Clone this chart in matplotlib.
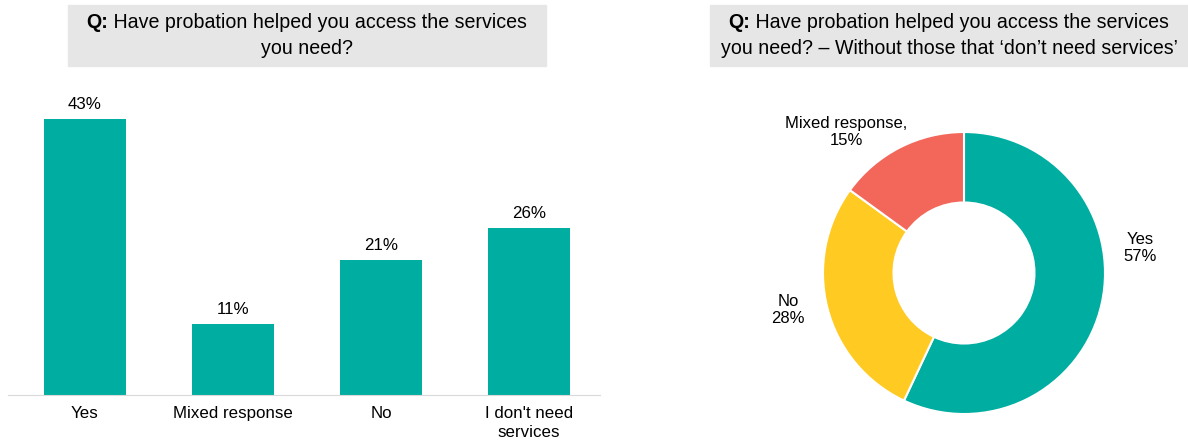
import matplotlib.pyplot as plt
from matplotlib.patches import Rectangle

plt.rcParams['font.family'] = ['Liberation Sans', 'DejaVu Sans']

# Responses, all respondents
categories = ["Yes", "Mixed response", "No", "I don't need\nservices"]
shares = [43, 11, 21, 26]

# Responses without those that don't need services
donut_labels = ["Yes\n57%", "No\n28%", "Mixed response,\n15%"]
donut_shares = [57, 28, 15]

teal = "#00ADA1"
donut_colors = [teal, "#FFCA22", "#F2675A"]

W, H = 1188, 444
fig = plt.figure(figsize=(W / 100, H / 100), dpi=100)
renderer = fig.canvas.get_renderer()
TITLE_SIZE = 14.1
LABEL_SIZE = 12.2


def px_box(x0, y0, x1, y1):
    # pixel box (top-left origin) -> figure fraction rect
    return [x0 / W, 1 - y1 / H, (x1 - x0) / W, (y1 - y0) / H]


def text_width(s, **kw):
    t = fig.text(0, 0, s, **kw)
    w = t.get_window_extent(renderer).width
    t.remove()
    return w


def header(x0, x1, first, second):
    y0, y1 = 5, 66
    fig.patches.append(Rectangle((x0 / W, 1 - y1 / H), (x1 - x0) / W, (y1 - y0) / H,
                                 transform=fig.transFigure, color="#E6E6E6", zorder=0))
    cx = (x0 + x1) / 2
    # first line: bold "Q:" followed by regular text, centred as one
    prefix, rest = "Q:", " " + first
    bold = dict(fontsize=TITLE_SIZE, fontweight="bold", fontfamily="Liberation Sans")
    wp = text_width(prefix, **bold)
    wr = text_width(rest, fontsize=TITLE_SIZE)
    left = cx - (wp + wr) / 2
    fig.text(left / W, 1 - 23 / H, prefix, ha="left", va="center", **bold)
    fig.text((left + wp) / W, 1 - 23 / H, rest, ha="left", va="center",
             fontsize=TITLE_SIZE)
    fig.text(cx / W, 1 - 48 / H, second, ha="center", va="center", fontsize=TITLE_SIZE)


header(68, 546, "Have probation helped you access the services", "you need?")
header(710, 1188, "Have probation helped you access the services",
       "you need? \u2013 Without those that \u2018don\u2019t need services\u2019")

# Bar chart
ax = fig.add_axes(px_box(8, 100, 600, 395))
x = range(len(categories))
ax.bar(x, shares, width=0.55, color=teal)
for xi, v in zip(x, shares):
    ax.text(xi, v + 1.1, f"{v}%", ha="center", va="bottom", fontsize=LABEL_SIZE)
ax.set_xlim(-0.52, 3.48)
ax.set_ylim(0, 46)
ax.set_xticks(list(x))
ax.set_xticklabels(categories, fontsize=LABEL_SIZE, linespacing=1.3)
ax.tick_params(axis="x", length=0, pad=8)
ax.set_yticks([])
for side in ("top", "right", "left"):
    ax.spines[side].set_visible(False)
ax.spines["bottom"].set_color("#D9D9D9")

# Donut chart
pax = fig.add_axes(px_box(964 - 150, 273 - 150, 964 + 150, 273 + 150))
pax.pie(donut_shares, colors=donut_colors, startangle=90, counterclock=False,
        radius=1.0, wedgeprops=dict(width=0.5, edgecolor="white", linewidth=1.5))
pax.set_xlim(-150 / 141, 150 / 141)
pax.set_ylim(-150 / 141, 150 / 141)
pax.set_aspect("equal")
pax.axis("off")

label_pos = [(1140, 248), (788, 310), (846, 132)]
for text, (lx, ly) in zip(donut_labels, label_pos):
    fig.text(lx / W, 1 - ly / H, text, ha="center", va="center", fontsize=12,
             linespacing=1.2)

fig.savefig("out.png", dpi=100)
